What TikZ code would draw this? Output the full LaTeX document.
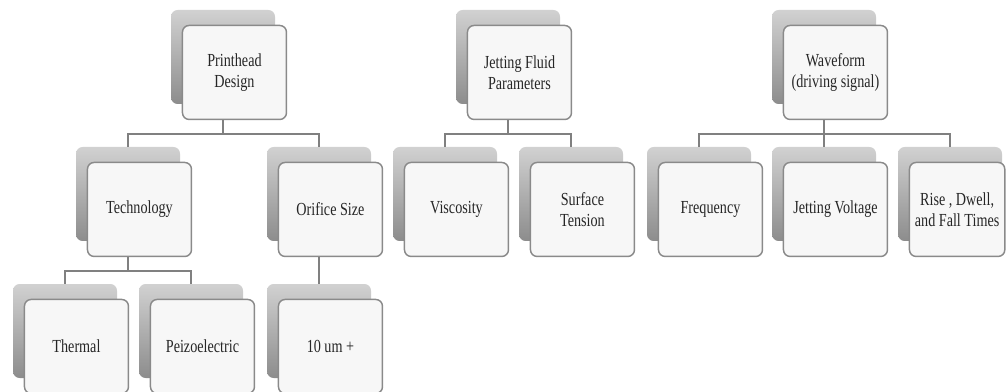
\documentclass[tikz,border=0pt]{standalone}
\usepackage{fontspec}
\setmainfont[FakeStretch=0.77]{Liberation Serif}
\usepackage{tikz}
\usetikzlibrary{positioning}
\definecolor{edge}{HTML}{8A8A8A}
\definecolor{wire}{HTML}{808080}
\definecolor{ink}{HTML}{262626}

\begin{document}
\begin{tikzpicture}[x=0.75pt, y=-0.75pt,
  back/.style={rounded corners=5pt, minimum width=78pt, minimum height=70.5pt, inner sep=0pt, top color=black!18, bottom color=black!45},
  card/.style={draw=edge, line width=1.1pt, rounded corners=5pt, fill=black!3, minimum width=78pt, minimum height=70.5pt, inner sep=2pt, anchor=north west, align=center, text=ink, font=\fontsize{13.8}{15.75}\selectfont},
  link/.style={draw=wire, line width=1.2pt}
]
\clip (0,0) rectangle (1007,392);

% top row
\node[back] (ph) at (223,57) {};
\node[card] (ph-f) at ([shift={(11,15)}]ph.north west) {Printhead\\Design};
\node[back] (jf) at (508,57) {};
\node[card] (jf-f) at ([shift={(11,15)}]jf.north west) {Jetting Fluid\\Parameters};
\node[back] (wf) at (824,57) {};
\node[card] (wf-f) at ([shift={(11,15)}]wf.north west) {Waveform\\(driving signal)};

% second row
\node[back] (tech) at (128,194) {};
\node[card] (tech-f) at ([shift={(11,15)}]tech.north west) {Technology};
\node[back] (ori) at (319,194) {};
\node[card] (ori-f) at ([shift={(11,15)}]ori.north west) {Orifice Size};
\node[back] (visc) at (445,194) {};
\node[card] (visc-f) at ([shift={(11,15)}]visc.north west) {Viscosity};
\node[back] (surf) at (571,194) {};
\node[card] (surf-f) at ([shift={(11,15)}]surf.north west) {Surface\\Tension};
\node[back] (freq) at (699,194) {};
\node[card] (freq-f) at ([shift={(11,15)}]freq.north west) {Frequency};
\node[back] (jv) at (824,194) {};
\node[card] (jv-f) at ([shift={(11,15)}]jv.north west) {Jetting Voltage};
\node[back] (rise) at (950,194) {};
\node[card, minimum width=71.5pt] (rise-f) at ([shift={(11,15)}]rise.north west) {Rise , Dwell,\\and Fall Times};

% third row
\node[back] (therm) at (65,331) {};
\node[card] (therm-f) at ([shift={(11,15)}]therm.north west) {Thermal};
\node[back] (peizo) at (191,331) {};
\node[card] (peizo-f) at ([shift={(11,15)}]peizo.north west) {Peizoelectric};
\node[back] (um) at (319,331) {};
\node[card] (um-f) at ([shift={(11,15)}]um.north west) {10 um +};

% tree lines
\draw[link] (ph.south |- ph-f.south) -- ++(0,14) -| (tech.north);
\draw[link] (ph.south |- ph-f.south) -- ++(0,14) -| (ori.north);
\draw[link] (jf.south |- jf-f.south) -- ++(0,14) -| (visc.north);
\draw[link] (jf.south |- jf-f.south) -- ++(0,14) -| (surf.north);
\draw[link] (wf.south |- wf-f.south) -- ++(0,14) -| (freq.north);
\draw[link] (wf.south |- wf-f.south) -- (jv.north);
\draw[link] (wf.south |- wf-f.south) -- ++(0,14) -| (rise.north);
\draw[link] (tech.south |- tech-f.south) -- ++(0,14) -| (therm.north);
\draw[link] (tech.south |- tech-f.south) -- ++(0,14) -| (peizo.north);
\draw[link] (ori.south |- ori-f.south) -- (um.north);
\end{tikzpicture}
\end{document}
